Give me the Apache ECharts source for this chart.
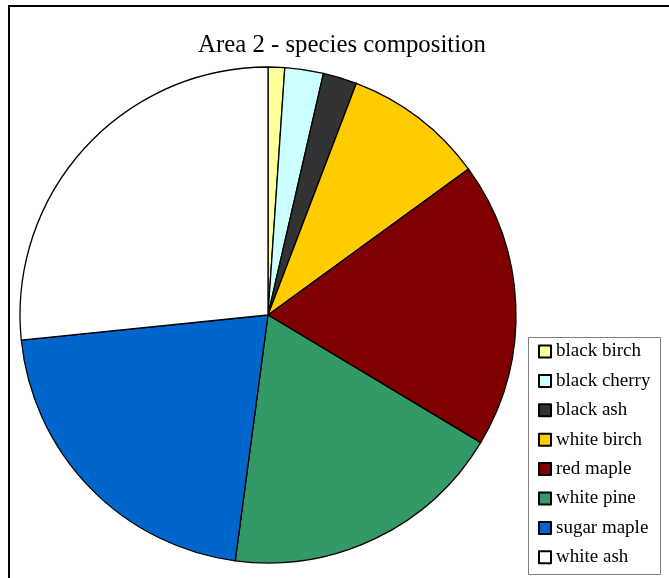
<!DOCTYPE html>
<html>
<head>
<meta charset="utf-8">
<title>Area 2 - species composition</title>
<script src="https://cdn.jsdelivr.net/npm/echarts@6/dist/echarts.min.js"></script>
<style>
  html, body { margin: 0; padding: 0; background: #ffffff; }
  #chart { width: 669px; height: 578px; }
</style>
</head>
<body>
<div id="chart"></div>
<script>
// Species shares (percent of stems) for Area 2
const species = ['black birch', 'black cherry', 'black ash', 'white birch', 'red maple', 'white pine', 'sugar maple', 'white ash'];
const shares = [1.08, 2.51, 2.21, 9.19, 18.61, 18.51, 21.28, 26.61];
const sliceColors = ['#FFFF99', '#CCFFFF', '#333333', '#FFCC00', '#800000', '#339966', '#0066CC', '#FFFFFF'];
const chartTitle = 'Area 2 - species composition';

const serif = '"Liberation Serif", "Times New Roman", serif';

const chart = echarts.init(document.getElementById('chart'), null, { renderer: 'canvas' });

chart.setOption({
  animation: false,
  backgroundColor: '#ffffff',
  title: {
    text: chartTitle,
    left: 198,
    top: 33,
    padding: 0,
    textStyle: { fontFamily: serif, fontSize: 24.8, fontWeight: 'normal', color: '#000000' }
  },
  legend: {
    orient: 'vertical',
    left: 528,
    top: 342,
    height: 400,
    padding: [0, 0, 0, 10],
    itemGap: 10.4,
    itemWidth: 12,
    itemHeight: 12,
    icon: 'rect',
    textStyle: { fontFamily: serif, fontSize: 19, color: '#000000', lineHeight: 18 },
    data: species
  },
  graphic: [{
    // legend frame
    type: 'rect',
    shape: { x: 528.5, y: 337.5, width: 132, height: 237 },
    style: { fill: '#ffffff', stroke: '#808080', lineWidth: 1 },
    silent: true,
    z: -1
  }, {
    // outer chart frame
    type: 'rect',
    shape: { x: 9, y: 6, width: 720, height: 620 },
    style: { fill: 'none', stroke: '#000000', lineWidth: 2 },
    silent: true,
    z: 100
  }],
  series: [{
    type: 'pie',
    center: [268, 315],
    radius: 248,
    startAngle: 90,
    clockwise: true,
    label: { show: false },
    labelLine: { show: false },
    emphasis: { disabled: true },
    itemStyle: { borderColor: '#000000', borderWidth: 1.3 },
    data: species.map((name, i) => ({
      name: name,
      value: shares[i],
      itemStyle: { color: sliceColors[i] }
    }))
  }]
});
</script>
</body>
</html>
